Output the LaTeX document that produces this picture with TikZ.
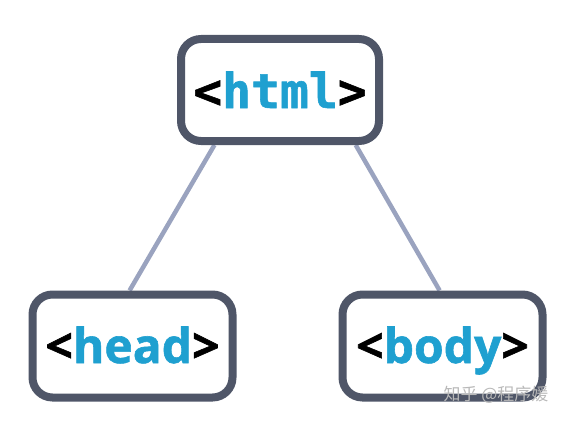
\documentclass[tikz,border=0pt]{standalone}
\usepackage{fontspec}
\newfontfamily\tagsans[FakeBold=1.2]{Open Sans}
\newfontfamily\tagmono[FakeBold=1.2]{DejaVu Sans Mono}
\newfontfamily\cjk{Noto Sans CJK SC}
\usetikzlibrary{backgrounds}
\definecolor{boxline}{HTML}{4F5668}
\definecolor{tagblue}{HTML}{1FA0D0}
\definecolor{linkline}{HTML}{9AA3BF}
\tikzset{
  tagbox/.style={draw=boxline,line width=8pt,rounded corners=20pt,fill=white,
    minimum width=200pt,minimum height=103pt,inner sep=0pt},
  tagtext/.style={font=\tagsans\fontsize{48}{48}\selectfont\bfseries,text height=36pt,text depth=2pt},
  link/.style={draw=linkline,line width=4.5pt}
}
\newcommand{\tagname}[1]{<\textcolor{tagblue}{#1}>}
\begin{document}
\begin{tikzpicture}[x=1pt,y=-1pt]
  \useasboundingbox (0,0) rectangle (564,420);
  \node[tagbox,minimum width=198pt,minimum height=102pt,font=\tagmono\fontsize{48}{48}\selectfont\bfseries,text height=36pt,text depth=0pt] (html) at (280,90) {\tagname{html}};
  \node[tagbox,tagtext] (head) at (132.5,346) {\tagname{head}};
  \node[tagbox,tagtext] (body) at (442.5,346) {\tagname{body}};
  \begin{scope}[on background layer]
    \draw[link] (html.220) -- (head.93);
    \draw[link] (html.324) -- (body.93);
  \end{scope}
  \node[text=gray!55,font=\cjk\fontsize{17}{17}\selectfont] (mark) at (496,395) {知乎 @程序媛};
\end{tikzpicture}
\end{document}
